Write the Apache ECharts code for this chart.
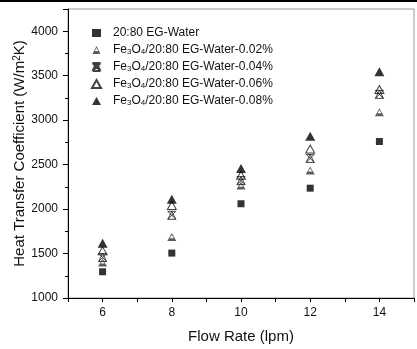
<!DOCTYPE html>
<html>
<head>
<meta charset="utf-8">
<script src="https://cdn.jsdelivr.net/npm/echarts@6/dist/echarts.min.js"></script>
<style>
html,body{margin:0;padding:0;background:#fff;}
#c{width:417px;height:349px;}
</style>
</head>
<body>
<div id="c"></div>
<script>
const flowRates = [6, 8, 10, 12, 14];
const egWater = [1295, 1505, 2060, 2235, 2760];
const fe002 = [1400, 1685, 2265, 2435, 3090];
const fe004 = [1455, 1930, 2320, 2570, 3290];
const fe006 = [1530, 2040, 2380, 2675, 3345];
const fe008 = [1615, 2110, 2455, 2820, 3545];
const seriesNames = ['20:80 EG-Water', 'Fe3O4/20:80 EG-Water-0.02%', 'Fe3O4/20:80 EG-Water-0.04%', 'Fe3O4/20:80 EG-Water-0.06%', 'Fe3O4/20:80 EG-Water-0.08%'];
const xTickLabels = ['6', '8', '10', '12', '14'];
const yTickLabels = ['1000', '1500', '2000', '2500', '3000', '3500', '4000'];

const pair = (ys) => flowRates.map((x, i) => [x, ys[i]]);
const FONT = 'Liberation Sans, Arial, sans-serif';
const TXT = '#111';

const halfTri = 'path://M50,0L100,100L0,100Z M50,24L27,64L73,64Z';
const xTri = 'path://M0,0L100,100M100,0L0,100M0,0L100,0M0,100L100,100M50,0L0,100M50,0L100,100';

const chart = echarts.init(document.getElementById('c'), null, {renderer: 'canvas'});
chart.setOption({
  animation: false,
  backgroundColor: '#fff',
  graphic: [{type: 'rect', shape: {x: 0, y: 0, width: 417, height: 2}, style: {fill: '#000'}, z: 100}],
  grid: {left: 68, top: 9, right: -10, bottom: 50, show: true, borderColor: '#999', borderWidth: 1},
  legend: {
    orient: 'vertical', left: 86, top: 22, itemWidth: 9, itemHeight: 8, itemGap: 5,
    data: seriesNames,
    formatter: function (n) {
      if (n.indexOf('Fe3O4') === 0) return '{g|}{n|Fe}{s|3}{n|O}{s|4}{n|' + n.slice(5) + '}';
      return '{g|}{n|' + n + '}';
    },
    textStyle: {
      color: TXT, fontFamily: FONT, fontSize: 12,
      rich: {
        g: {width: 7, lineHeight: 12},
        n: {fontSize: 12, fontFamily: FONT, color: TXT, lineHeight: 12},
        s: {fontSize: 8, fontFamily: FONT, color: TXT, lineHeight: 6, verticalAlign: 'bottom'}
      }
    }
  },
  xAxis: {
    type: 'value', min: 5, max: 15, interval: 1,
    name: 'Flow Rate (lpm)', nameLocation: 'middle', nameGap: 31, nameMoveOverlap: false,
    nameTextStyle: {color: TXT, fontFamily: FONT, fontSize: 15},
    axisLine: {show: true, lineStyle: {color: '#000', width: 1}},
    axisTick: {show: true, length: 4, lineStyle: {color: '#000'}},
    axisLabel: {
      color: TXT, fontFamily: FONT, fontSize: 12, margin: 9,
      formatter: function (v) { const s = String(v); return xTickLabels.indexOf(s) >= 0 ? s : ''; }
    },
    splitLine: {show: false}
  },
  yAxis: {
    type: 'value', min: 1000, max: 4250, interval: 500,
    name: 'Heat Transfer Coefficient (W/m{sup|2}K)', nameLocation: 'middle', nameGap: 41, nameMoveOverlap: false,
    nameTextStyle: {
      color: TXT, fontFamily: FONT, fontSize: 15,
      rich: {sup: {fontSize: 10, fontFamily: FONT, color: TXT, verticalAlign: 'top', lineHeight: 10}}
    },
    axisLine: {show: true, lineStyle: {color: '#000', width: 1}},
    axisTick: {show: true, length: 5, lineStyle: {color: '#000'}},
    minorTick: {show: true, splitNumber: 2, length: 3, lineStyle: {color: '#000'}},
    axisLabel: {
      color: TXT, fontFamily: FONT, fontSize: 12, margin: 10, showMaxLabel: false,
      formatter: function (v) { const s = String(v); return yTickLabels.indexOf(s) >= 0 ? s : ''; }
    },
    splitLine: {show: false}
  },
  series: [
    {name: seriesNames[0], type: 'scatter', data: pair(egWater), symbol: 'rect', symbolSize: 7,
     itemStyle: {color: '#000'}},
    {name: seriesNames[1], type: 'scatter', data: pair(fe002), symbol: halfTri, symbolSize: [9, 8],
     itemStyle: {color: '#333'}},
    {name: seriesNames[2], type: 'scatter', data: pair(fe004), symbol: xTri, symbolSize: [8, 8],
     itemStyle: {color: 'rgba(0,0,0,0)', borderColor: '#111', borderWidth: 1}},
    {name: seriesNames[3], type: 'scatter', data: pair(fe006), symbol: 'triangle', symbolSize: [9, 8],
     itemStyle: {color: 'rgba(255,255,255,0)', borderColor: '#111', borderWidth: 1}},
    {name: seriesNames[4], type: 'scatter', data: pair(fe008), symbol: 'triangle', symbolSize: [10, 9],
     itemStyle: {color: '#000'}}
  ]
});
</script>
</body>
</html>
